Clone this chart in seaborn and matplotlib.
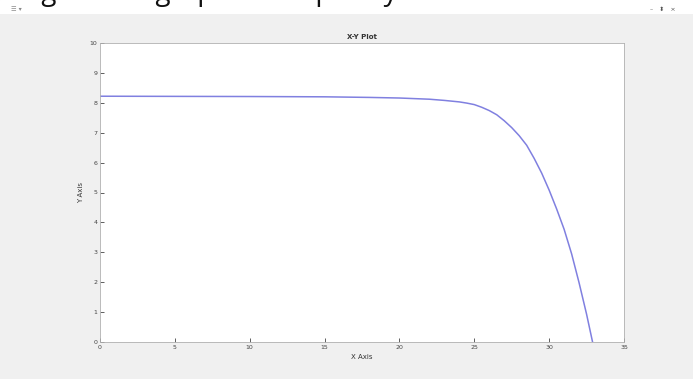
import matplotlib
matplotlib.use("Agg")
import matplotlib.pyplot as plt
import seaborn as sns
import pandas as pd

# I-V characteristic of the module (voltage in V, current in A)
voltage = [0, 5, 10, 15, 18, 20, 21, 22, 23, 24, 24.5, 25, 25.5, 26, 26.5,
           27, 27.5, 28, 28.5, 29, 29.5, 30, 30.5, 31, 31.5, 32, 32.5, 32.9]
current = [8.22, 8.215, 8.21, 8.20, 8.18, 8.16, 8.14, 8.12, 8.08, 8.03, 7.99, 7.94,
           7.85, 7.74, 7.60, 7.40, 7.17, 6.90, 6.58, 6.14, 5.65, 5.08, 4.45,
           3.77, 2.95, 1.98, 0.93, 0.0]

x_ticks = [0, 5, 10, 15, 20, 25, 30, 35]
y_ticks = list(range(0, 11))

df = pd.DataFrame({"V": voltage, "I": current})

sns.set_theme(style="white")
plt.rcParams["font.family"] = ["DejaVu Sans"]

fig = plt.figure(figsize=(6.93, 3.79), dpi=100)
fig.patch.set_facecolor("#f0f0f0")

# white document strip at the top; the caption line above the window is cut by it
strip = fig.add_axes([0, 1 - 14 / 379, 1, 14 / 379])
strip.set_xlim(0, 693)
strip.set_ylim(14, 0)
strip.axis("off")
strip.add_patch(plt.Rectangle((0, 0), 693, 14, color="white", zorder=0))
strip.text(20, 0, "Figure: I-V graph of output by", fontsize=20,
           family="Open Sans", color="#111111",
           va="baseline", ha="left", clip_on=True)

# window toolbar glyphs
strip.text(11, 9.5, "☰ ▾", fontsize=4.5, color="#888888", va="center")
strip.text(650, 9.5, "–   ⬍   ×", fontsize=4.5, color="#555555", va="center")

ax = fig.add_axes([100 / 693, 1 - 342 / 379, 524 / 693, 299 / 379])
ax.set_facecolor("white")
sns.lineplot(data=df, x="V", y="I", ax=ax, color="#8080e0", linewidth=1.1)

ax.set_xlim(0, 35)
ax.set_ylim(0, 10)
ax.set_xticks(x_ticks)
ax.set_yticks(y_ticks)
ax.tick_params(axis="both", direction="in", length=3, width=0.6,
               labelsize=4.5, colors="#444444", pad=2)
ax.tick_params(top=False, right=False, bottom=True, left=True)
for s in ax.spines.values():
    s.set_color("#b0b0b0")
    s.set_linewidth(0.6)

ax.set_title("X-Y Plot", fontsize=5, fontweight="bold", color="#333333", pad=3)
ax.set_xlabel("X Axis", fontsize=5, color="#333333", labelpad=3)
ax.set_ylabel("Y Axis", fontsize=5, color="#333333", labelpad=4)

fig.savefig("out.png", dpi=100, facecolor=fig.get_facecolor())
